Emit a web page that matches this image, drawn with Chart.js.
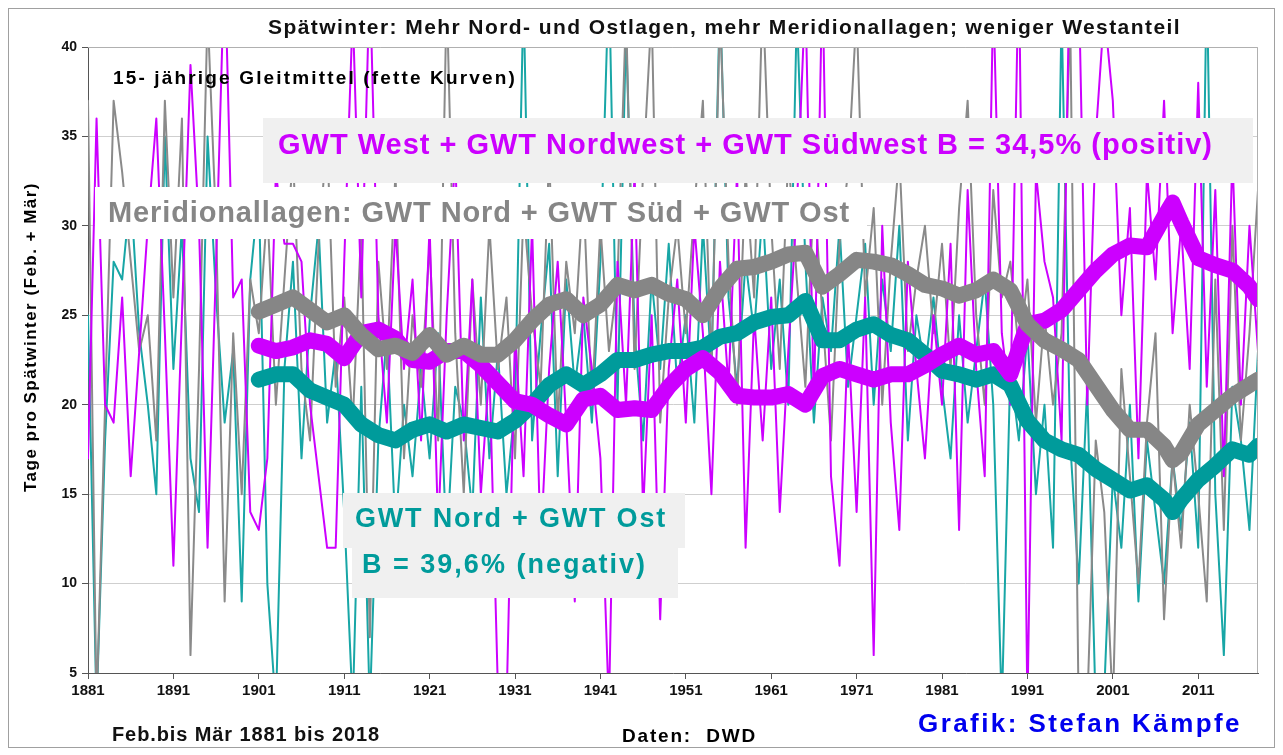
<!DOCTYPE html>
<html>
<head>
<meta charset="utf-8">
<script src="https://cdn.jsdelivr.net/npm/chart.js@4"></script>
<style>
  body { margin: 0; background: #fff; }
  canvas { display: block; }
</style>
</head>
<body>
<canvas id="gwt" width="1283" height="755"></canvas>
<script>
// Jahreswerte Feb.+Mär, 1881 bis 2018
const firstYear = 1881;

const westRaw = [
  17, 36, 20, 19, 26, 16, 23, 30, 36, 24,
  11, 25, 39, 30, 12, 28, 45, 26, 27, 14,
  13, 17, 33, 29, 29, 28, 20, 16, 12, 12,
  28, 42, 26, 44, 25, 19, 30, 22, 27, 18,
  30, 13, 25, 34, 18, 27, 15, 22, 4, 3,
  24, 16, 30, 12, 22, 28, 19, 9, 26, 22,
  17, 3, 28, 20, 33, 14, 25, 8, 22, 27,
  19, 30, 24, 15, 28, 21, 33, 12, 25, 18,
  26, 14, 23, 31, 43, 20, 44, 16, 11, 24,
  14, 26, 6, 30, 19, 13, 28, 22, 17, 25,
  20, 29, 13, 32, 22, 16, 43, 24, 20, 45,
  3, 33, 28, 26, 18, 46, 44, 20, 35, 42,
  37, 25, 31, 17, 33, 27, 37, 24, 30, 22,
  38, 21, 32, 16, 34, 20, 30, 23
];

const meridRaw = [
  37, 3, 20, 37, 33, 28, 23, 25, 18, 37,
  26, 36, 6, 22, 42, 30, 9, 24, 15, 27,
  24, 31, 20, 27, 34, 22, 18, 29, 35, 21,
  26, 19, 30, 7, 28, 22, 33, 17, 25, 21,
  29, 18, 43, 24, 15, 27, 20, 30, 22, 26,
  17, 31, 25, 21, 34, 19, 28, 24, 32, 20,
  30, 23, 27, 42, 22, 33, 42, 19, 26, 30,
  24, 31, 37, 22, 42, 28, 20, 33, 26, 43,
  30, 22, 34, 27, 21, 32, 25, 18, 29, 33,
  42, 26, 31, 20, 28, 34, 23, 27, 30, 24,
  29, 22, 31, 37, 25, 20, 32, 26, 28, 23,
  27, 19, 25, 20, 24, 42, 3, 3, 18, 14,
  3, 22, 16, 10, 19, 24, 8, 17, 12, 20,
  15, 9, 27, 13, 30, 18, 24, 32
];

const nordOstRaw = [
  25, 3, 18, 28, 27, 32, 24, 20, 15, 35,
  22, 30, 17, 14, 35, 26, 19, 23, 9, 27,
  32, 10, 3, 22, 28, 17, 25, 30, 19, 23,
  14, 3, 21, 3, 18, 24, 13, 20, 16, 22,
  17, 24, 12, 21, 19, 14, 26, 17, 23, 15,
  20, 43, 18, 24, 29, 16, 27, 21, 25, 19,
  28, 44, 20, 41, 24, 18, 27, 22, 29, 21,
  25, 19, 30, 22, 43, 26, 21, 28, 24, 31,
  22, 27, 20, 42, 28, 19, 26, 23, 30, 21,
  25, 29, 20, 27, 23, 30, 18, 25, 22, 26,
  21, 17, 25, 19, 23, 27, 20, 3, 22, 18,
  24, 15, 20, 12, 42, 18, 10, 21, 3, 4,
  16, 12, 20, 9, 18, 14, 10, 17, 13, 19,
  12, 44, 15, 6, 21, 18, 13, 23
];

// 15-jaehrige Gleitmittel (fette Kurven)
const smoothYears = [
  1901, 1903, 1905, 1907, 1909, 1911, 1913, 1915, 1917, 1919,
  1921, 1923, 1925, 1927, 1929, 1931, 1933, 1935, 1937, 1939,
  1941, 1943, 1945, 1947, 1949, 1951, 1953, 1955, 1957, 1959,
  1961, 1963, 1965, 1967, 1969, 1971, 1973, 1975, 1977, 1979,
  1981, 1983, 1985, 1987, 1989, 1991, 1993, 1995, 1997, 1999,
  2001, 2003, 2005, 2007, 2008, 2009, 2011, 2013, 2015, 2017, 2018
];
const westSmooth = [
  23.3, 23.0, 23.2, 23.6, 23.4, 22.6, 24.0, 24.2, 23.7, 22.5,
  22.4, 23.0, 23.0, 22.2, 21.2, 20.2, 20.0, 19.4, 18.9, 20.3,
  20.5, 19.7, 19.8, 19.7, 21.0, 22.0, 22.6, 21.8, 20.5, 20.4,
  20.4, 20.6, 20.0, 21.6, 22.0, 21.7, 21.4, 21.7, 21.7, 22.2,
  22.8, 23.3, 22.8, 23.0, 21.7, 24.5, 24.7, 25.3, 26.4, 27.5,
  28.4, 28.9, 28.8, 30.5, 31.3, 30.2, 28.2, 27.8, 27.5, 26.6, 25.9
];
const meridSmooth = [
  25.2, 25.6, 26.0, 25.3, 24.6, 25.0, 23.9, 23.1, 23.3, 22.9,
  23.9, 22.8, 23.3, 22.8, 22.8, 23.6, 24.7, 25.6, 25.9, 25.0,
  25.6, 26.7, 26.4, 26.7, 26.2, 25.9, 25.0, 26.5, 27.6, 27.7,
  28.0, 28.4, 28.5, 26.6, 27.3, 28.1, 28.0, 27.8, 27.3, 26.7,
  26.5, 26.1, 26.4, 27.0, 26.4, 24.5, 23.6, 23.1, 22.5, 21.1,
  19.7, 18.6, 18.6, 17.7, 16.9, 17.3, 18.9, 19.7, 20.5, 21.1, 21.4
];
const nordOstSmooth = [
  21.4, 21.7, 21.7, 20.8, 20.4, 20.0, 18.9, 18.3, 18.0, 18.6,
  18.9, 18.5, 18.9, 18.7, 18.5, 19.1, 20.0, 21.1, 21.7, 21.1,
  21.7, 22.5, 22.5, 22.8, 23.0, 23.0, 23.2, 23.8, 24.0, 24.6,
  24.9, 25.0, 25.8, 23.6, 23.6, 24.2, 24.5, 23.9, 23.6, 22.8,
  21.9, 21.7, 21.4, 21.7, 21.1, 19.1, 18.0, 17.5, 17.2, 16.4,
  15.8, 15.2, 15.5, 14.7, 14.0, 14.7, 15.8, 16.6, 17.5, 17.2, 17.7
];

const xTicks = [1881, 1891, 1901, 1911, 1921, 1931, 1941, 1951, 1961, 1971, 1981, 1991, 2001, 2011];

const MAGENTA = '#cc00ff';
const GREY = '#868686';
const TEAL = '#009b9b';
const FONT = '"Liberation Sans", Arial, sans-serif';

const yearly = arr => arr.map((v, i) => ({ x: firstYear + i, y: v }));
const smooth = arr => arr.map((v, i) => ({ x: smoothYears[i], y: v }));

// text squeezed/stretched to the width it has in the original
function fitText(ctx, text, x, y, width, size, color) {
  ctx.font = 'bold ' + size + 'px ' + FONT;
  ctx.letterSpacing = '0px';
  const w = ctx.measureText(text).width;
  ctx.letterSpacing = ((width - w) / text.length) + 'px';
  ctx.fillStyle = color;
  ctx.textAlign = 'left';
  ctx.textBaseline = 'middle';
  ctx.fillText(text, x, y);
  ctx.letterSpacing = '0px';
}

const decor = {
  id: 'decor',
  beforeDraw(chart) {
    const ctx = chart.ctx;
    ctx.save();
    ctx.fillStyle = '#fff';
    ctx.fillRect(0, 0, chart.width, chart.height);
    ctx.strokeStyle = '#a0a0a0';
    ctx.lineWidth = 1;
    ctx.strokeRect(8.5, 8.5, 1266, 739);
    ctx.restore();
  },
  afterDatasetsDraw(chart) {
    const ctx = chart.ctx;
    const a = chart.chartArea;
    ctx.save();
    ctx.strokeStyle = '#b0b0b0';
    ctx.lineWidth = 1;
    ctx.beginPath();
    ctx.moveTo(a.left, a.top + 0.5);
    ctx.lineTo(a.right - 0.5, a.top + 0.5);
    ctx.lineTo(a.right - 0.5, a.bottom);
    ctx.stroke();

    // Beschriftungskaesten
    ctx.fillStyle = '#f0f0f0';
    ctx.fillRect(263, 118, 990, 65);
    ctx.fillStyle = '#ffffff';
    ctx.fillRect(95, 187, 772, 52);
    ctx.fillStyle = '#f0f0f0';
    ctx.fillRect(343, 493, 342, 55);
    ctx.fillRect(352, 545, 326, 53);

    fitText(ctx, 'GWT West + GWT Nordwest + GWT Südwest B = 34,5% (positiv)', 278, 146, 935, 29, MAGENTA);
    fitText(ctx, 'Meridionallagen: GWT Nord + GWT Süd + GWT Ost', 108, 214, 742, 29, GREY);
    fitText(ctx, 'GWT Nord + GWT Ost', 355, 520, 312, 27, TEAL);
    fitText(ctx, 'B = 39,6% (negativ)', 362, 566, 285, 27, TEAL);
    fitText(ctx, '15- jährige Gleitmittel (fette Kurven)', 113, 79, 404, 19, '#000');

    // Titel und Fusszeilen
    fitText(ctx, 'Spätwinter: Mehr Nord- und Ostlagen, mehr Meridionallagen; weniger Westanteil', 268, 28, 913, 21, '#111');
    fitText(ctx, 'Feb.bis Mär 1881 bis 2018', 112, 735, 268, 20, '#111');
    fitText(ctx, 'Daten:  DWD', 622, 737, 135, 19, '#000');
    fitText(ctx, 'Grafik: Stefan Kämpfe', 918, 725, 324, 26, '#0000ee');

    ctx.translate(31, 337);
    ctx.rotate(-Math.PI / 2);
    fitText(ctx, 'Tage pro Spätwinter (Feb. + Mär)', -155, 0, 310, 17, '#000');
    ctx.restore();
  }
};

new Chart(document.getElementById('gwt'), {
  type: 'line',
  data: {
    datasets: [
      { data: smooth(meridSmooth), borderColor: GREY, borderWidth: 16 },
      { data: smooth(westSmooth), borderColor: MAGENTA, borderWidth: 16 },
      { data: smooth(nordOstSmooth), borderColor: TEAL, borderWidth: 16 },
      { data: yearly(westRaw), borderColor: MAGENTA, borderWidth: 2 },
      { data: yearly(meridRaw), borderColor: '#8a8a8a', borderWidth: 2 },
      { data: yearly(nordOstRaw), borderColor: '#18a6a6', borderWidth: 2 }
    ]
  },
  options: {
    responsive: false,
    animation: false,
    devicePixelRatio: 1,
    layout: { padding: { top: 47, right: 25, left: 0, bottom: 0 } },
    elements: {
      point: { radius: 0 },
      line: { tension: 0, borderJoinStyle: 'round', borderCapStyle: 'round', fill: false }
    },
    plugins: {
      legend: { display: false },
      tooltip: { enabled: false }
    },
    scales: {
      x: {
        type: 'linear',
        min: 1881,
        max: 2018,
        afterBuildTicks: scale => { scale.ticks = xTicks.map(v => ({ value: v })); },
        afterFit: scale => { scale.height = 82; },
        grid: { drawOnChartArea: false, tickLength: 6, tickColor: '#555' },
        border: { color: '#555', width: 1 },
        ticks: {
          callback: v => String(v),
          color: '#111',
          padding: 3,
          maxRotation: 0,
          font: { family: FONT, size: 15, weight: 'bold' }
        }
      },
      y: {
        min: 5,
        max: 40,
        afterFit: scale => { scale.width = 88; },
        grid: { color: '#cfcfcf', tickLength: 6, tickColor: '#555' },
        border: { color: '#555', width: 1 },
        ticks: {
          stepSize: 5,
          color: '#111',
          padding: 5,
          font: { family: FONT, size: 14, weight: 'bold' }
        }
      }
    }
  },
  plugins: [decor]
});
</script>
</body>
</html>
